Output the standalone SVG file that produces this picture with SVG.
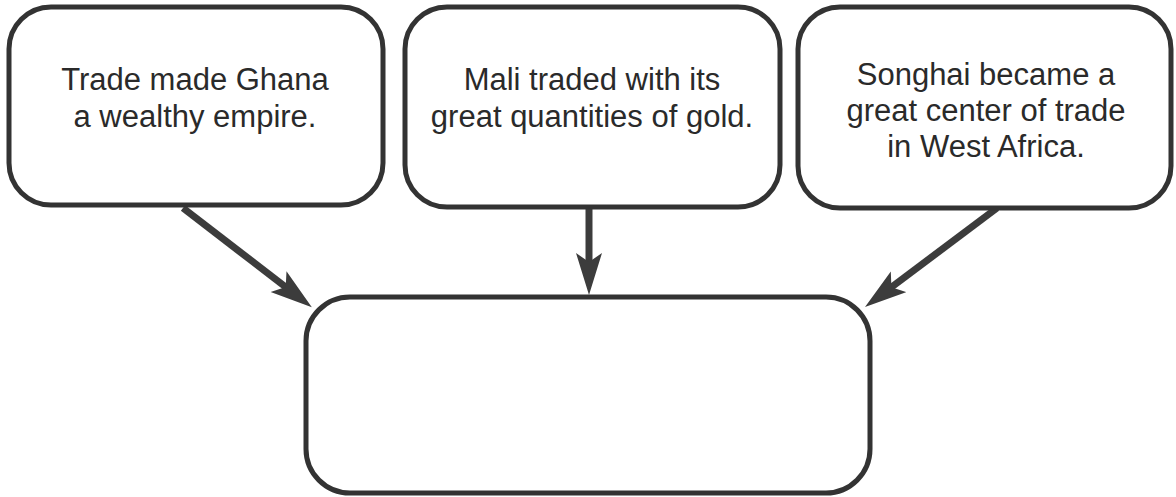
<svg xmlns="http://www.w3.org/2000/svg" width="1176" height="497" viewBox="0 0 1176 497">
  <style>
    .box { fill: #ffffff; stroke: #333333; stroke-width: 5; }
    .lbl { font-family: "Liberation Sans", Arial, Helvetica, sans-serif; font-size: 31px; fill: #2a2a2a; text-anchor: middle; }
    .conn { stroke: #3c3c3c; stroke-width: 7; fill: none; marker-end: url(#head); }
  </style>
  <defs>
    <marker id="head" markerUnits="userSpaceOnUse" markerWidth="46" markerHeight="28" refX="22" refY="13" orient="auto" viewBox="0 0 46 28">
      <path d="M0,0 L42,13 L0,26 L9,13 z" fill="#3c3c3c"/>
    </marker>
  </defs>
  <rect width="1176" height="497" fill="#ffffff"/>

  <g id="connectors">
    <line class="conn" x1="183" y1="208" x2="296" y2="295"/>
    <line class="conn" x1="589" y1="207" x2="589" y2="275"/>
    <line class="conn" x1="997" y1="208" x2="881" y2="295"/>
  </g>

  <g id="node-ghana">
    <rect class="box" x="9" y="7" width="374" height="198" rx="42" ry="42"/>
    <text class="lbl" x="195" y="90">Trade made Ghana</text>
    <text class="lbl" x="195" y="127">a wealthy empire.</text>
  </g>

  <g id="node-mali">
    <rect class="box" x="405" y="7" width="375" height="200" rx="42" ry="42"/>
    <text class="lbl" x="592" y="90">Mali traded with its</text>
    <text class="lbl" x="592" y="127">great quantities of gold.</text>
  </g>

  <g id="node-songhai">
    <rect class="box" x="798" y="7" width="373" height="201" rx="42" ry="42"/>
    <text class="lbl" x="986" y="85">Songhai became a</text>
    <text class="lbl" x="986" y="121">great center of trade</text>
    <text class="lbl" x="986" y="157">in West Africa.</text>
  </g>

  <g id="node-summary">
    <rect class="box" x="306" y="297" width="564" height="196" rx="44" ry="44"/>
  </g>
</svg>
